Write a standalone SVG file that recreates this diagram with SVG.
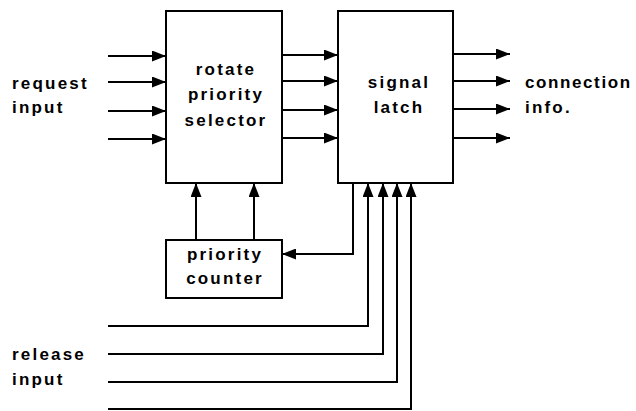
<svg xmlns="http://www.w3.org/2000/svg" width="636" height="411" viewBox="0 0 636 411">
<style>
.box{fill:#fff;stroke:#000;stroke-width:2}
.w{fill:none;stroke:#000;stroke-width:2}
.a{marker-end:url(#ah)}
text{font-family:"Liberation Sans",Arial,sans-serif;font-weight:bold;font-size:17px;letter-spacing:2.2px;fill:#000}
.c{text-anchor:middle}
</style>
<defs>
<marker id="ah" markerUnits="userSpaceOnUse" markerWidth="14" markerHeight="11" refX="14" refY="5.5" orient="auto">
<path d="M0,0 L14,5.5 L0,11 z" fill="#000"/>
</marker>
</defs>
<rect width="636" height="411" fill="#fff"/>
<g id="connectors">
<line class="w a" x1="108" y1="56" x2="166" y2="56"/>
<line class="w a" x1="108" y1="82" x2="166" y2="82"/>
<line class="w a" x1="108" y1="111" x2="166" y2="111"/>
<line class="w a" x1="108" y1="139" x2="166" y2="139"/>
<line class="w a" x1="282" y1="55" x2="338" y2="55"/>
<line class="w a" x1="282" y1="81" x2="338" y2="81"/>
<line class="w a" x1="282" y1="110" x2="338" y2="110"/>
<line class="w a" x1="282" y1="138" x2="338" y2="138"/>
<line class="w a" x1="453" y1="54" x2="510" y2="54"/>
<line class="w a" x1="453" y1="81" x2="510" y2="81"/>
<line class="w a" x1="453" y1="109" x2="510" y2="109"/>
<line class="w a" x1="453" y1="138" x2="510" y2="138"/>
<line class="w a" x1="196" y1="240" x2="196" y2="183"/>
<line class="w a" x1="254" y1="240" x2="254" y2="183"/>
<polyline class="w a" points="353,183 353,254 282,254"/>
<polyline class="w a" points="108,326 368,326 368,183"/>
<polyline class="w a" points="108,354 383,354 383,183"/>
<polyline class="w a" points="108,382 397,382 397,183"/>
<polyline class="w a" points="108,409 411,409 411,183"/>
</g>
<g id="selector">
<rect class="box" x="166" y="11" width="116" height="172"/>
<text class="c" x="226" y="75">rotate</text>
<text class="c" x="226" y="100">priority</text>
<text class="c" x="226" y="126">selector</text>
</g>
<g id="latch">
<rect class="box" x="338" y="11" width="115" height="172"/>
<text class="c" x="399" y="88">signal</text>
<text class="c" x="399" y="113">latch</text>
</g>
<g id="counter">
<rect class="box" x="166" y="240" width="116" height="58"/>
<text class="c" x="225" y="260">priority</text>
<text class="c" x="225" y="284">counter</text>
</g>
<g id="labels">
<text x="12" y="89">request</text>
<text x="12" y="113">input</text>
<text x="525" y="88" style="letter-spacing:1.6px">connection</text>
<text x="525" y="113">info.</text>
<text x="12" y="360">release</text>
<text x="12" y="385">input</text>
</g>
</svg>
